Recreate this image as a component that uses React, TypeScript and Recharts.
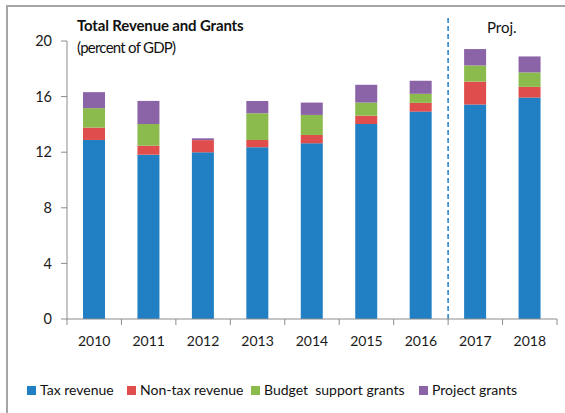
import React from 'react';
import { BarChart, Bar, XAxis, YAxis, ReferenceLine } from 'recharts';

const years = ['2010', '2011', '2012', '2013', '2014', '2015', '2016', '2017', '2018'];
const taxRevenue = [12.88, 11.82, 11.99, 12.35, 12.64, 14.03, 14.92, 15.43, 15.93];
const nonTaxRevenue = [0.89, 0.65, 0.88, 0.53, 0.6, 0.6, 0.63, 1.65, 0.77];
const budgetSupportGrants = [1.4, 1.56, 0.0, 1.92, 1.44, 0.94, 0.65, 1.16, 1.04];
const projectGrants = [1.15, 1.66, 0.13, 0.89, 0.89, 1.28, 0.94, 1.18, 1.15];
const yTicks = [0, 4, 8, 12, 16, 20];
const seriesNames = ['Tax revenue', 'Non-tax revenue', 'Budget  support grants', 'Project grants'];
const seriesKeys = ['tax', 'nontax', 'budget', 'project'];
const seriesColors = ['#2180C3', '#DF4E4C', '#8CBB4D', '#8A64A7'];
const projStart = '2017';

const data = years.map((y, i) => ({
  year: y,
  tax: taxRevenue[i],
  nontax: nonTaxRevenue[i],
  budget: budgetSupportGrants[i],
  project: projectGrants[i],
}));

const W = 565;
const H = 413;
const MARGIN = { top: 41, right: 8, bottom: 64, left: 7 };
const YAXIS_W = 60;
const BAND = (W - MARGIN.left - MARGIN.right - YAXIS_W) / years.length;
const FONT = 'Lato, "Open Sans", "Noto Sans", sans-serif';
const AXIS_COLOR = '#8c8c8c';

const XTick = (props: any) => {
  const { x, y, payload, index } = props;
  const last = index === years.length - 1;
  const half = BAND / 2;
  return (
    <g>
      <line x1={x - half} x2={x - half} y1={y - 8} y2={y - 2} stroke={AXIS_COLOR} strokeWidth={1} />
      {last && <line x1={x + half} x2={x + half} y1={y - 8} y2={y - 2} stroke={AXIS_COLOR} strokeWidth={1} />}
      <text x={x} y={y + 19} textAnchor="middle" fontSize={14} fontFamily={FONT} fill="#1a1a1a">
        {payload.value}
      </text>
    </g>
  );
};

const ProjLine = (props: any) => {
  const { x1, y1, x2, y2 } = props;
  return <line x1={x1} x2={x2} y1={y1} y2={y2} stroke="#2E86C8" strokeWidth={1.6} strokeDasharray="5 3" />;
};

export default function App() {
  return (
    <div style={{ position: 'absolute', left: 0, top: 0, width: W, height: H, overflow: 'hidden', background: '#fff' }}>
      <div style={{ position: 'absolute', left: 6, top: 5, width: 566, height: 430, border: '2px solid #a6a6a6', boxSizing: 'border-box' }} />
      <div style={{ position: 'absolute', left: 0, top: 0 }}>
        <BarChart width={W} height={H} data={data} margin={MARGIN} barSize={22}>
          <XAxis
            dataKey="year"
            height={30}
            stroke={AXIS_COLOR}
            tickLine={false}
            tick={<XTick />}
            interval={0}
          />
          <YAxis
            width={YAXIS_W}
            domain={[0, 20]}
            ticks={yTicks}
            interval={0}
            stroke={AXIS_COLOR}
            tickSize={6}
            tickMargin={9}
            tick={{ fontSize: 14.5, fontFamily: FONT, fill: '#1a1a1a' }}
          />
          {seriesKeys.map((k, i) => (
            <Bar key={k} dataKey={k} name={seriesNames[i]} stackId="a" fill={seriesColors[i]} isAnimationActive={false} />
          ))}
          <ReferenceLine
            segment={[{ x: projStart, y: 0 }, { x: projStart, y: 21.75 }]}
            position="start"
            ifOverflow="visible"
            shape={<ProjLine />}
          />
        </BarChart>
      </div>
      <div style={{ position: 'absolute', left: 77, top: 16, fontFamily: FONT, fontSize: 15, fontWeight: 700, lineHeight: '18px', color: '#111', letterSpacing: '-0.15px', whiteSpace: 'nowrap' }}>
        Total Revenue and Grants
      </div>
      <div style={{ position: 'absolute', left: 77, top: 38, fontFamily: FONT, fontSize: 15, lineHeight: '18px', color: '#111', letterSpacing: '-0.75px', whiteSpace: 'nowrap' }}>
        (percent of GDP)
      </div>
      <div style={{ position: 'absolute', left: 487, top: 18, fontFamily: FONT, fontSize: 15, lineHeight: '18px', color: '#111', whiteSpace: 'nowrap' }}>
        Proj.
      </div>
      <div style={{ position: 'absolute', left: 0, top: 381, width: W, fontFamily: FONT, fontSize: 14, lineHeight: '18px', color: '#111', whiteSpace: 'nowrap' }}>
        {seriesNames.map((n, i) => {
          const lefts = [27, 127, 251, 419];
          return (
            <div key={n} style={{ position: 'absolute', left: lefts[i], top: 0, display: 'flex', alignItems: 'center' }}>
              <span style={{ display: 'inline-block', width: 9, height: 9, background: seriesColors[i], marginRight: 4 }} />
              <span style={{ whiteSpace: 'pre' }}>{n}</span>
            </div>
          );
        })}
      </div>
    </div>
  );
}
